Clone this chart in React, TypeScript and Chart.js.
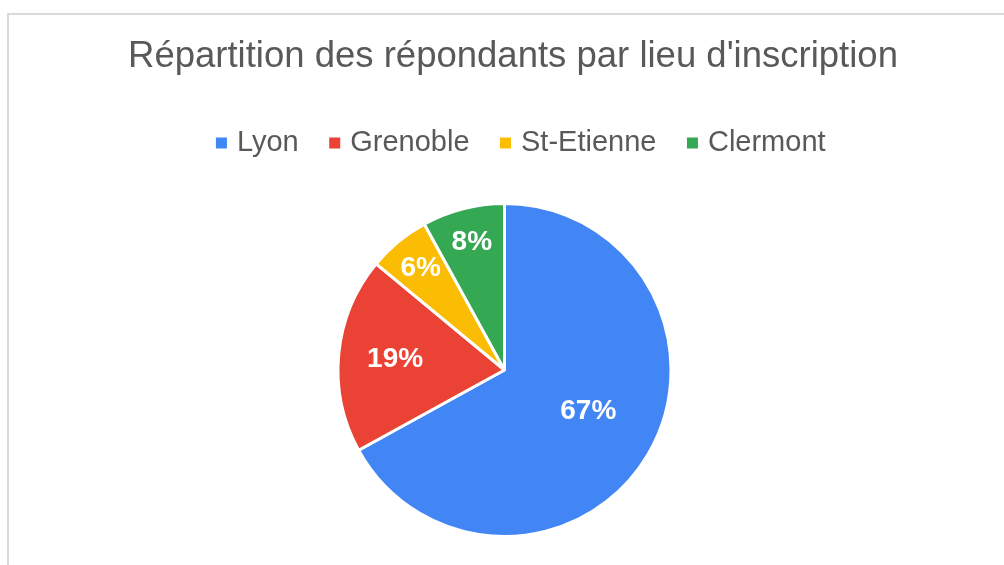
import React, { useEffect, useRef } from "react";
import { Chart, registerables } from "chart.js";

Chart.register(...registerables);

const TITLE = "Répartition des répondants par lieu d'inscription";
const categories = ["Lyon", "Grenoble", "St-Etienne", "Clermont"];
const values = [67, 19, 6, 8];
const colors = ["#4285F4", "#EA4335", "#FBBC04", "#34A853"];

const FONT = "'Liberation Sans', Arial, sans-serif";

const sliceLabels = {
  id: "sliceLabels",
  afterDatasetsDraw(chart: any) {
    const meta = chart.getDatasetMeta(0);
    const data = chart.data.datasets[0].data as number[];
    const total = data.reduce((a, b) => a + b, 0);
    const ctx = chart.ctx;
    ctx.save();
    ctx.fillStyle = "#ffffff";
    ctx.font = `bold 28px ${FONT}`;
    ctx.textAlign = "center";
    ctx.textBaseline = "middle";
    meta.data.forEach((arc: any, i: number) => {
      const share = data[i] / total;
      const p = arc.getProps(["x", "y", "startAngle", "endAngle", "outerRadius"], true);
      const mid = (p.startAngle + p.endAngle) / 2 - (share > 0.5 ? 0.08 : 0);
      const f = share > 0.5 ? 0.56 : share > 0.12 ? 0.66 : 0.79;
      ctx.fillText(
        Math.round(share * 100) + "%",
        p.x + Math.cos(mid) * p.outerRadius * f,
        p.y + Math.sin(mid) * p.outerRadius * f
      );
    });
    ctx.restore();
  },
};

// Extra space under the legend and small horizontal nudges of title/legend
const boxTweaks = {
  id: "boxTweaks",
  beforeInit(chart: any) {
    const legend = chart.legend;
    const origFit = legend.fit;
    legend.fit = function () {
      origFit.call(this);
      this.height += 34.5;
    };
    const origLegendDraw = legend.draw;
    legend.draw = function () {
      const ctx = this.ctx;
      ctx.save();
      ctx.translate(7, 0);
      origLegendDraw.call(this);
      ctx.restore();
    };
    const title = chart.titleBlock;
    if (title) {
      const origTitleDraw = title.draw;
      title.draw = function () {
        const ctx = this.ctx;
        ctx.save();
        ctx.translate(-3, 0);
        origTitleDraw.call(this);
        ctx.restore();
      };
    }
  },
};

const shiftPie = {
  id: "shiftPie",
  afterLayout(chart: any) {
    chart.chartArea.left -= 11.5;
    chart.chartArea.right -= 11.5;
  },
};

export default function App() {
  const ref = useRef<HTMLCanvasElement | null>(null);
  useEffect(() => {
    if (!ref.current) return;
    const baseLabels = (Chart as any).overrides.pie.plugins.legend.labels.generateLabels;
    const chart = new Chart(ref.current, {
      type: "pie",
      data: {
        labels: categories,
        datasets: [
          {
            data: values,
            backgroundColor: colors,
            borderColor: "#ffffff",
            borderWidth: 3,
          },
        ],
      },
      options: {
        responsive: false,
        animation: false,
        layout: { padding: { top: 0, bottom: 27, left: 0, right: 0 } },
        plugins: {
          tooltip: { enabled: false },
          title: {
            display: true,
            text: TITLE,
            color: "#595959",
            font: { family: FONT, size: 36.5, weight: "normal" },
            padding: { top: 35, bottom: 14.7 },
          },
          legend: {
            display: true,
            position: "top",
            labels: {
              color: "#595959",
              font: { family: FONT, size: 29 },
              usePointStyle: true,
              pointStyle: "rect",
              boxWidth: 2,
              boxHeight: 11,
              padding: 35,
              generateLabels(chart: any) {
                return baseLabels(chart).map((l: any) => ({
                  ...l,
                  lineWidth: 0,
                  strokeStyle: "rgba(0,0,0,0)",
                  pointStyle: "rect",
                }));
              },
            },
          },
        },
      },
      plugins: [boxTweaks, shiftPie, sliceLabels],
    });
    return () => chart.destroy();
  }, []);

  return (
    <div
      style={{
        position: "fixed",
        left: 0,
        top: 0,
        width: 1004,
        height: 565,
        overflow: "hidden",
        background: "#ffffff",
      }}
    >
      <div
        style={{
          position: "absolute",
          left: 7,
          top: 13,
          width: 1100,
          height: 700,
          border: "2px solid #d9d9d9",
          boxSizing: "border-box",
        }}
      />
      <canvas
        ref={ref}
        width={976}
        height={565}
        style={{ position: "absolute", left: 28, top: 0 }}
      />
    </div>
  );
}
